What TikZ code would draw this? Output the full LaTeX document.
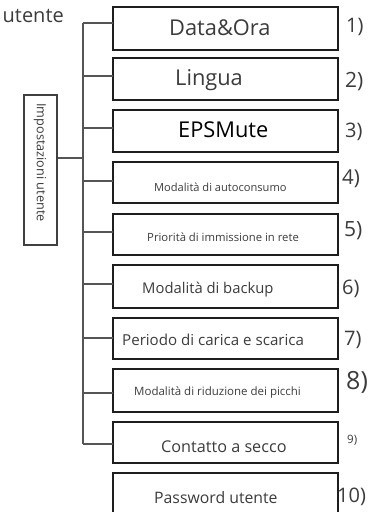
\documentclass[tikz,border=0pt]{standalone}
\usepackage{fontspec}
\setmainfont{Open Sans}
\newcommand{\fsz}[1]{\fontsize{#1}{#1}\selectfont}
\definecolor{txtgray}{HTML}{3C3C3C}
\definecolor{linegray}{HTML}{555555}
\definecolor{boxline}{HTML}{1E1E1E}
\begin{document}
\begin{tikzpicture}[x=1pt,y=-1pt,
  menubox/.style={draw=boxline, line width=2pt, minimum width=225pt, inner sep=0pt, outer sep=0pt},
  boxtext/.style={anchor=base west, inner sep=0pt, text=txtgray},
  numlab/.style={anchor=west, inner sep=0pt, text=txtgray},
  branch/.style={draw=linegray, line width=1.1pt}
]
\clip (0,0) rectangle (376,512);
\fill[white] (0,0) rectangle (376,512);

% header fragment
\node[anchor=base east, inner sep=0pt, text=txtgray] (hdr) at (64,22) {\fsz{20}utente};

% left box
\node[draw=boxline!85, line width=1.3pt, minimum width=33pt, minimum height=150pt, inner sep=0pt] (lb) at (40.5,170) {};
\node[rotate=-90, inner sep=0pt, text=txtgray] (lbt) at (40,162.5) {\fsz{12.7}Impostazioni utente};

% menu boxes
\node[menubox, line width=2.2pt, minimum height=43pt] (b1) at (225.5,28.5) {};
\node[menubox, line width=2.2pt, minimum height=42pt] (b2) at (225.5,79) {};
\node[menubox, line width=2.2pt, minimum height=42pt] (b3) at (225.5,131) {};
\node[menubox, minimum height=41pt] (b4) at (225.5,182.5) {};
\node[menubox, minimum height=41pt] (b5) at (225.5,234.5) {};
\node[menubox, minimum height=43pt] (b6) at (225.5,286.5) {};
\node[menubox, minimum height=41pt] (b7) at (225.5,338.5) {};
\node[menubox, minimum height=43pt] (b8) at (225.5,390.5) {};
\node[menubox, minimum height=41pt] (b9) at (225.5,442.5) {};
\node[menubox, minimum height=43pt] (b10) at (225.5,494) {};

% box texts
\node[boxtext] (t1) at (169,35) {\fsz{21.8}Data\&Ora};
\node[boxtext] (t2) at (175,85) {\fsz{21.8}Lingua};
\node[boxtext, text=black] (t3) at (178,137) {\fsz{21.8}EPSMute};
\node[boxtext] (t4) at (154,191) {\fsz{11.1}Modalità di autoconsumo};
\node[boxtext] (t5) at (147,241.5) {\fsz{11.3}Priorità di immissione in rete};
\node[boxtext] (t6) at (142,293) {\fsz{14.8}Modalità di backup};
\node[boxtext] (t7) at (122,345) {\fsz{15.1}Periodo di carica e scarica};
\node[boxtext] (t8) at (134,395) {\fsz{11.5}Modalità di riduzione dei picchi};
\node[boxtext] (t9) at (161,452) {\fsz{16.2}Contatto a secco};
\node[boxtext] (t10) at (154,503) {\fsz{15.8}Password utente};

% number labels
\node[numlab] (n1) at (346,26.5) {\fsz{20}1)};
\node[numlab] (n2) at (345,82) {\fsz{21}2)};
\node[numlab] (n3) at (345,131.5) {\fsz{20}3)};
\node[numlab] (n4) at (342,179) {\fsz{20.5}4)};
\node[numlab] (n5) at (344,231) {\fsz{21}5)};
\node[numlab] (n6) at (342,289) {\fsz{20}6)};
\node[numlab] (n7) at (344,340) {\fsz{20}7)};
\node[numlab] (n8) at (346,382.5) {\fsz{25}8)};
\node[numlab] (n9) at (347,440) {\fsz{11.5}9)};
\node[numlab] (n10) at (337,497) {\fsz{20}10)};

% trunk and branches
\coordinate (k1) at (83,23);
\coordinate (k2) at (83,76);
\coordinate (k3) at (83,128);
\coordinate (k4) at (83,181);
\coordinate (k5) at (83,232);
\coordinate (k6) at (83,284);
\coordinate (k7) at (83,338);
\coordinate (k8) at (83,393);
\coordinate (k9) at (83,444);
\coordinate (k0) at (83,158);

\draw[branch] (k1) -- (k9);
\draw[branch] (k0 -| lb.east) -- (k0);
\draw[branch] (k1) -- (k1 -| b1.west);
\draw[branch] (k2) -- (k2 -| b2.west);
\draw[branch] (k3) -- (k3 -| b3.west);
\draw[branch] (k4) -- (k4 -| b4.west);
\draw[branch] (k5) -- (k5 -| b5.west);
\draw[branch] (k6) -- (k6 -| b6.west);
\draw[branch] (k7) -- (k7 -| b7.west);
\draw[branch] (k8) -- (k8 -| b8.west);
\draw[branch] (k9) -- (k9 -| b9.west);
\end{tikzpicture}
\end{document}
